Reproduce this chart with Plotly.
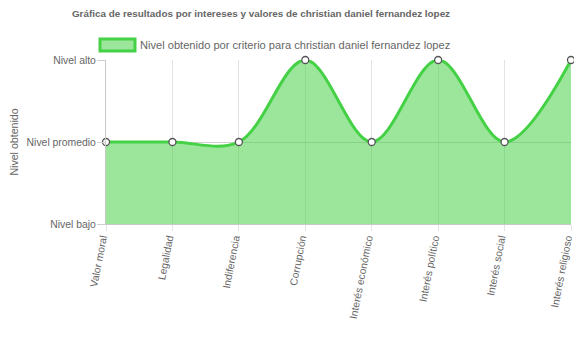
import plotly.graph_objects as go

categories = ["Valor moral", "Legalidad", "Indiferencia", "Corrupción", "Interés económico",
              "Interés político", "Interés social", "Interés religioso"]
values = [1, 1, 1, 2, 1, 2, 1, 2]
level_vals = [0, 1, 2]
level_labels = ["Nivel bajo", "Nivel promedio", "Nivel alto"]
series_name = "Nivel obtenido por criterio para christian daniel fernandez lopez"
title_text = "Gráfica de resultados por intereses y valores de christian daniel fernandez lopez"

FONT = "Liberation Sans, Arial, sans-serif"
GREY = "#666666"
LINE = "#45d145"
FILL = "rgba(75,210,75,0.55)"

fig = go.Figure()
fig.add_trace(go.Scatter(
    x=list(range(len(categories))), y=values, name=series_name,
    mode="lines+markers", line=dict(color=LINE, width=3, shape="spline", smoothing=1.0),
    fill="tozeroy", fillcolor=FILL,
    marker=dict(size=7, color="white", line=dict(color="#555555", width=1.3)),
    cliponaxis=False, showlegend=False,
))

# legend swatch (Chart.js-style box) + label
fig.add_shape(type="rect", xref="paper", yref="paper",
              x0=(100 - 106) / 465, x1=(135 - 106) / 465,
              y0=(224 - 51) / 164, y1=(224 - 39) / 164,
              fillcolor=FILL, line=dict(color=LINE, width=3))
fig.add_annotation(text=series_name, xref="paper", yref="paper",
                   x=(138 - 106) / 465, y=(224 - 45) / 164, xanchor="left", yanchor="middle",
                   showarrow=False, font=dict(size=11.1, color=GREY))

fig.update_layout(
    width=574, height=355,
    margin=dict(l=106, r=3, t=60, b=131),
    paper_bgcolor="white", plot_bgcolor="white",
    font=dict(family=FONT, size=10.4, color=GREY),
    title=dict(text="<b>" + title_text + "</b>", x=261 / 574, xanchor="center", y=1 - 14 / 355, yanchor="middle",
               font=dict(size=9.9, color=GREY)),
    showlegend=False,
)
fig.update_xaxes(
    range=[0, len(categories) - 1], tickmode="array",
    tickvals=list(range(len(categories))), ticktext=categories,
    tickangle=-79, showgrid=True, gridcolor="#e3e3e3", gridwidth=1,
    showline=True, linecolor="#c8c8c8", linewidth=1,
    ticks="outside", ticklen=6, tickcolor="#e3e3e3",
    zeroline=False, layer="above traces", automargin=False,
    ticklabeloverflow="allow", ticklabelshift=-4, ticklabelstandoff=-3,
)
fig.update_yaxes(
    range=[0, 2], tickmode="array", tickvals=level_vals, ticktext=level_labels,
    showgrid=True, gridcolor="#d0d0d0", gridwidth=1,
    showline=True, linecolor="#c8c8c8", linewidth=1,
    ticks="outside", ticklen=8, tickcolor="#d0d0d0",
    zeroline=False, layer="above traces", automargin=False,
    ticklabeloverflow="allow", ticklabelstandoff=-1,
    title=dict(text="Nivel obtenido", font=dict(size=10.6, color=GREY), standoff=5),
)
fig.write_html("out.html", post_script="document.body.style.margin='0';",
               config={"displayModeBar": False})
